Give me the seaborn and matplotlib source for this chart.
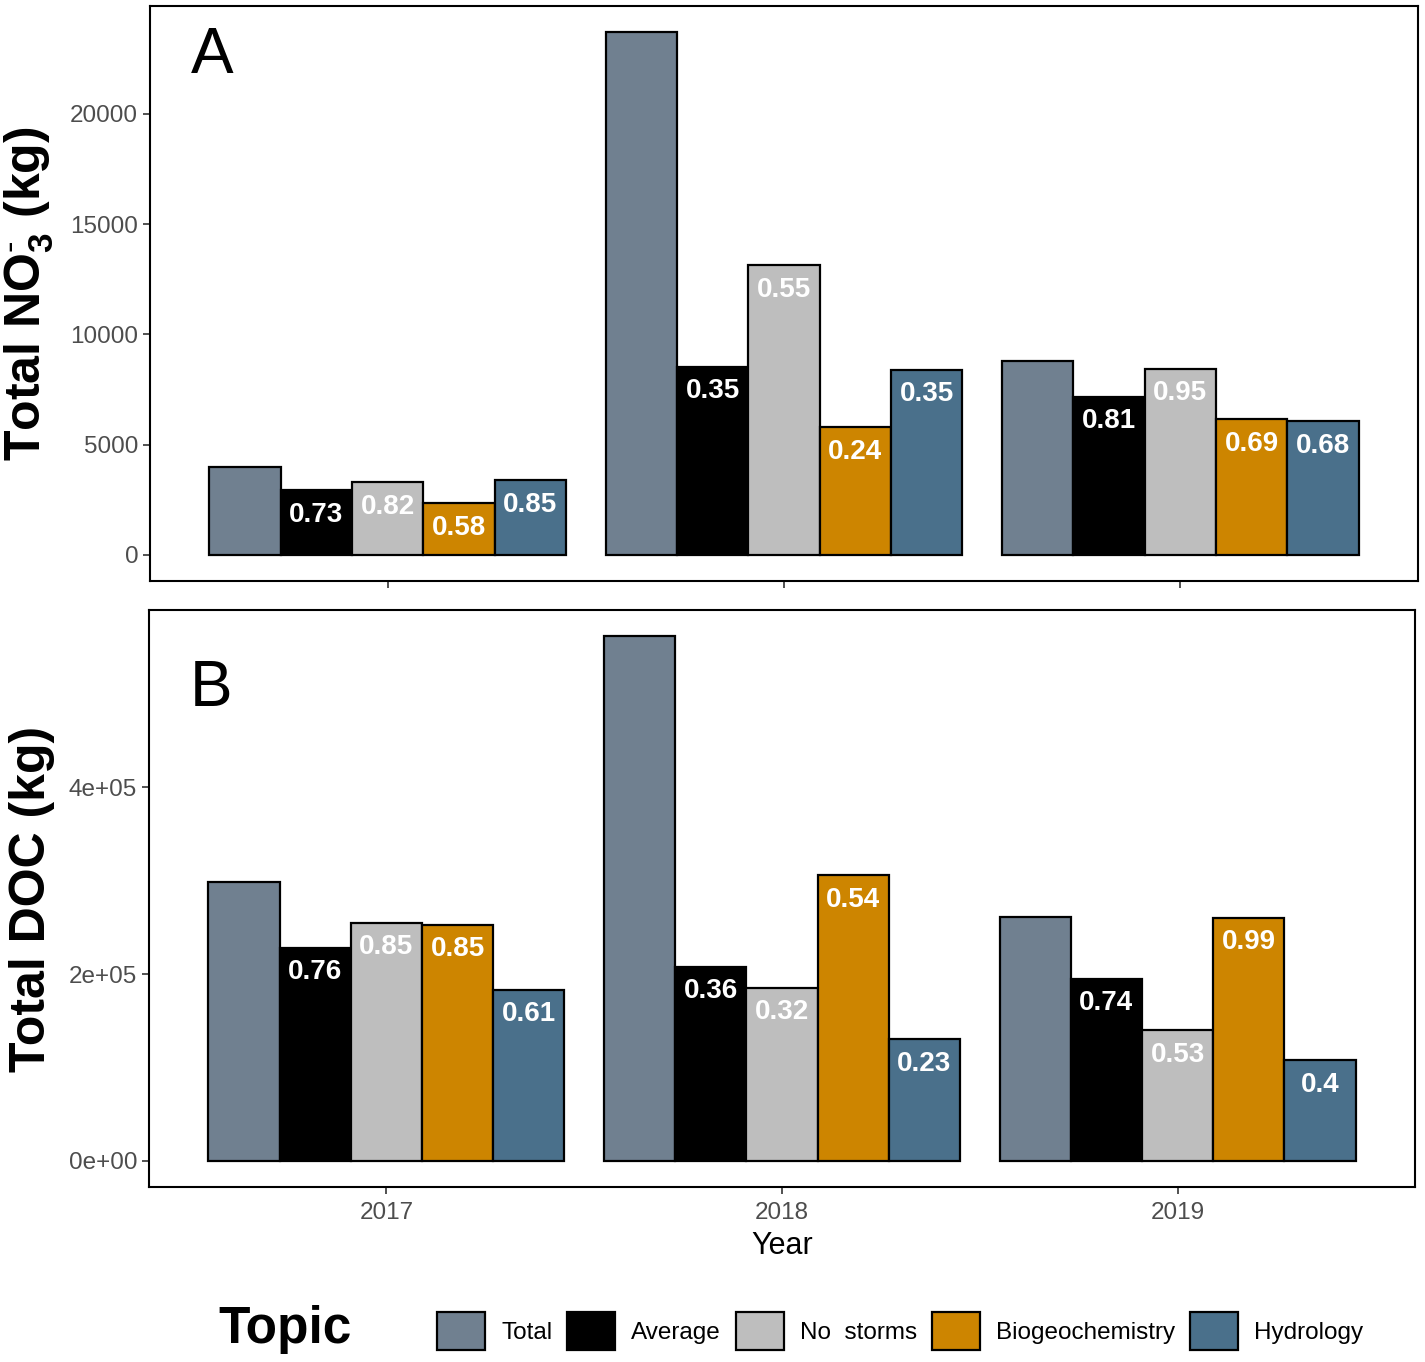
import pandas as pd
import matplotlib
matplotlib.use("Agg")
import matplotlib.pyplot as plt
import seaborn as sns

# ---- data ----
years = ["2017", "2018", "2019"]
topics = ["Total", "Average", "No storms", "Biogeochemistry", "Hydrology"]
legend_labels = ["Total", "Average", "No  storms", "Biogeochemistry", "Hydrology"]
colors = ["#708090", "#000000", "#BEBEBE", "#CD8500", "#4A708B"]

no3_total = [3970, 23700, 8800]
no3_average = [2940, 8530, 7180]
no3_nostorms = [3300, 13140, 8440]
no3_biogeo = [2350, 5780, 6140]
no3_hydro = [3390, 8400, 6050]

doc_total = [298700, 562100, 261300]
doc_average = [228300, 208000, 195200]
doc_nostorms = [254900, 185600, 139700]
doc_biogeo = [252800, 306100, 260300]
doc_hydro = [183500, 130100, 107700]

no3_r = {"Average": ["0.73", "0.35", "0.81"],
         "No storms": ["0.82", "0.55", "0.95"],
         "Biogeochemistry": ["0.58", "0.24", "0.69"],
         "Hydrology": ["0.85", "0.35", "0.68"]}
doc_r = {"Average": ["0.76", "0.36", "0.74"],
         "No storms": ["0.85", "0.32", "0.53"],
         "Biogeochemistry": ["0.85", "0.54", "0.99"],
         "Hydrology": ["0.61", "0.23", "0.4"]}

no3_ticks = [0, 5000, 10000, 15000, 20000]
no3_ticklabels = ["0", "5000", "10000", "15000", "20000"]
doc_ticks = [0, 200000, 400000]
doc_ticklabels = ["0e+00", "2e+05", "4e+05"]


def long_table(series):
    rows = []
    for topic, vals in zip(topics, series):
        for yr, v in zip(years, vals):
            rows.append({"Year": yr, "Topic": topic, "Load": v})
    return pd.DataFrame(rows)


no3_df = long_table([no3_total, no3_average, no3_nostorms, no3_biogeo, no3_hydro])
doc_df = long_table([doc_total, doc_average, doc_nostorms, doc_biogeo, doc_hydro])

sns.set_theme(style="white")
plt.rcParams["font.family"] = ["Liberation Sans", "DejaVu Sans"]
plt.rcParams["text.color"] = "black"
plt.rcParams["axes.labelcolor"] = "black"
plt.rcParams["mathtext.fontset"] = "custom"
plt.rcParams["mathtext.rm"] = "Liberation Sans"
plt.rcParams["mathtext.bf"] = "Liberation Sans:bold"

fig = plt.figure(figsize=(14.25, 13.62), dpi=100)
ax_top = fig.add_axes([150 / 1425, 1 - 581 / 1362, 1268 / 1425, 575 / 1362])
ax_bot = fig.add_axes([149 / 1425, 1 - 1187 / 1362, 1266 / 1425, 577 / 1362])


def draw_panel(ax, df, rlabels, ticks, ticklabels, ylabel, letter, letter_y):
    sns.barplot(data=df, x="Year", y="Load", hue="Topic", hue_order=topics,
                order=years, palette=colors, edgecolor="black", linewidth=1.6,
                width=0.9, errorbar=None, saturation=1, ax=ax, legend=False)
    for topic, cont in zip(topics, ax.containers):
        if topic in rlabels:
            ax.bar_label(cont, labels=rlabels[topic], padding=-27,
                         color="white", fontsize=20, fontweight="bold")
    ymax = df["Load"].max()
    ax.set_ylim(-0.05 * ymax, 1.05 * ymax)
    ax.set_xlim(-0.6, 2.6)
    ax.set_yticks(ticks)
    ax.set_yticklabels(ticklabels)
    ax.set_ylabel(ylabel, fontsize=36, fontweight="bold", labelpad=10)
    for s in ax.spines.values():
        s.set_visible(True)
        s.set_color("black")
        s.set_linewidth(1.5)
    ax.tick_params(axis="both", length=5, width=1.2, color="#333333",
                   labelcolor="#4D4D4D", labelsize=17.5, bottom=True, left=True)
    ax.tick_params(axis="x", pad=6)
    ax.text(0.032, letter_y, letter, transform=ax.transAxes, fontsize=46,
            ha="left", va="top", color="black")


draw_panel(ax_top, no3_df, no3_r, no3_ticks, no3_ticklabels,
           r"Total NO$_\mathbf{3}^{\text{-}}$ (kg)", "A", 0.965)
draw_panel(ax_bot, doc_df, doc_r, doc_ticks, doc_ticklabels,
           "Total DOC (kg)", "B", 0.915)

ax_top.set_xlabel("")
ax_top.set_xticklabels([])
ax_bot.set_xlabel("Year", fontsize=22, color="black", labelpad=5)

# legend along the bottom, title on the left
handles = [plt.Rectangle((0, 0), 1, 1, facecolor=c, edgecolor="black", linewidth=1.6)
           for c in colors]
fig.legend(handles, legend_labels, loc="center", ncol=5, frameon=False,
           bbox_to_anchor=(900 / 1425, 1 - 1331 / 1362), fontsize=17.5,
           handlelength=2.0, handleheight=2.0, handletextpad=0.65,
           columnspacing=0.6, borderpad=0)
fig.text(218 / 1425, 1 - 1330 / 1362, "Topic", fontsize=37, fontweight="bold",
         ha="left", va="center")

fig.savefig("out.png", dpi=100)
